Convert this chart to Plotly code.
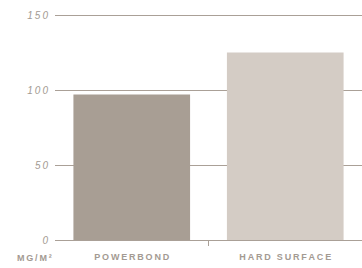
import plotly.graph_objects as go

categories = ["POWERBOND", "HARD SURFACE"]
values = [97, 125]
bar_colors = ["#a89e94", "#d4ccc5"]
y_ticks = [0, 50, 100, 150]
y_tick_labels = ["0", "50", "100", "150"]
unit_label = "MG/M²"

def spaced(s, sep="\u2009"):
    return sep.join(list(s))

text_color = "#a39a92"
grid_color = "#aaa097"

fig = go.Figure()
fig.add_trace(go.Bar(
    x=categories, y=values, marker=dict(color=bar_colors, line=dict(width=0)),
    width=0.76, hoverinfo="skip",
))
fig.add_trace(go.Scatter(x=[None], y=[None], xaxis="x2", showlegend=False, hoverinfo="skip"))

fig.update_layout(
    template="none",
    width=362, height=268,
    margin=dict(l=55, r=0, t=12, b=25, autoexpand=False),
    paper_bgcolor="white", plot_bgcolor="white",
    showlegend=False, hovermode=False,
    font=dict(family="Liberation Sans, Arial, sans-serif", color=text_color),
    xaxis=dict(
        tickvals=categories, ticktext=[spaced(c) for c in categories],
        tickfont=dict(size=9, color=text_color, weight="bold"),
        showgrid=False, showline=False, zeroline=False, ticks="", ticklabelstandoff=7,
        range=[-0.5, 1.5], automargin=False,
    ),
    xaxis2=dict(
        overlaying="x", range=[-0.5, 1.5], tickvals=[0.5], ticktext=[""],
        ticks="outside", ticklen=5, tickcolor=grid_color, tickwidth=1,
        showgrid=False, showline=False, zeroline=False, side="bottom", automargin=False,
        anchor="free", position=0.013,
    ),
    yaxis=dict(
        range=[-2, 152], tickvals=y_ticks, ticktext=[spaced(t) for t in y_tick_labels],
        tickfont=dict(size=10, color=text_color, style="italic"),
        showgrid=True, gridcolor=grid_color, gridwidth=1, ticks="",
        zeroline=False, showline=False, ticklabelstandoff=6, automargin=False,
    ),
)

fig.add_annotation(
    text=spaced(unit_label), xref="paper", yref="paper", x=0, y=0,
    xanchor="right", yanchor="top", xshift=-1, yshift=-8,
    showarrow=False, font=dict(size=9, color=text_color, weight="bold"),
)

fig.write_html("out.html", config={"displayModeBar": False, "staticPlot": True},
               post_script="document.body.style.margin='0';")
